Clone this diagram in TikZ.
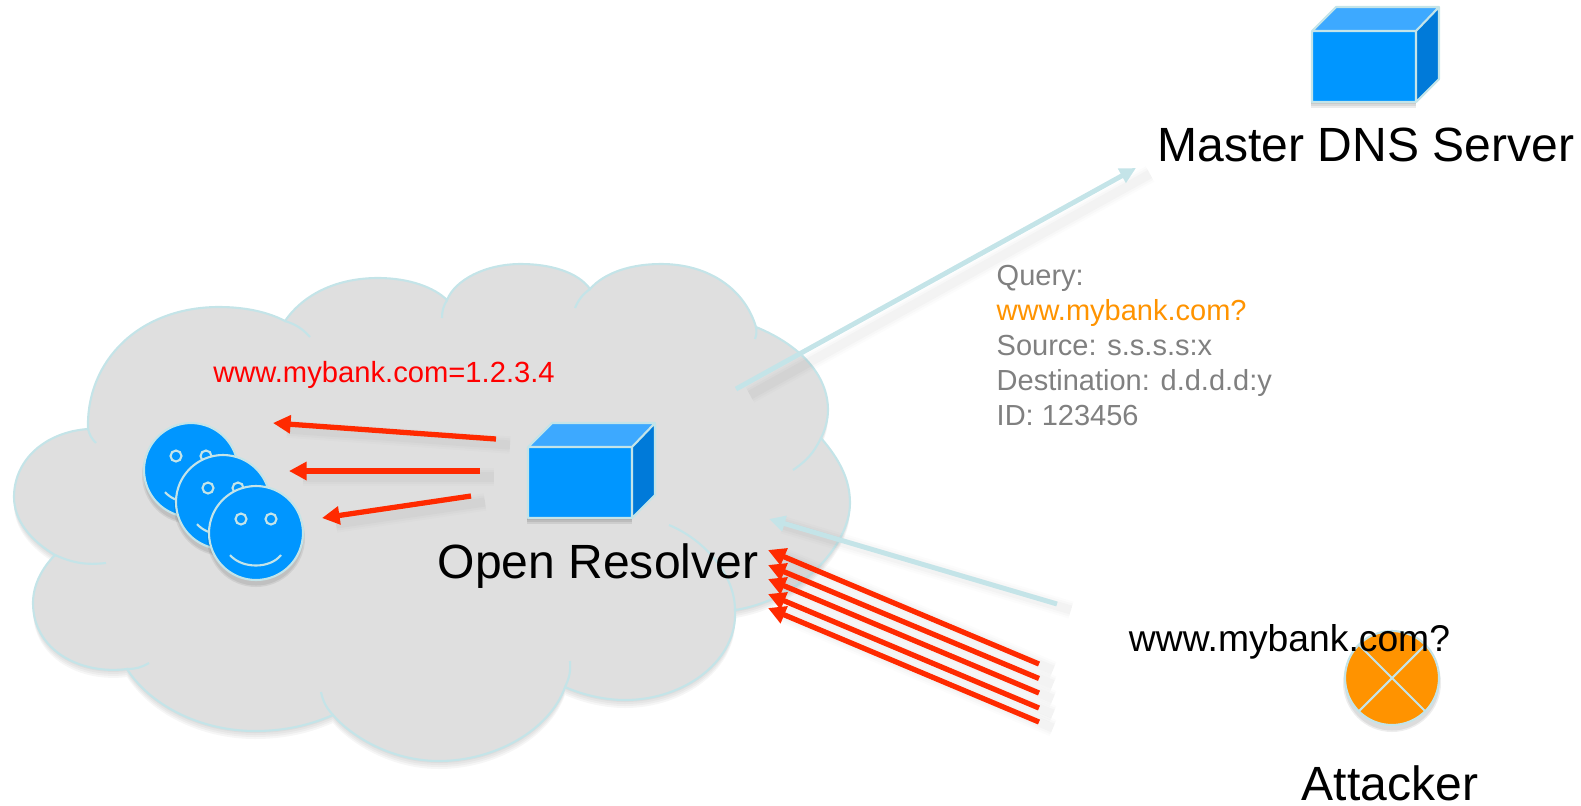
\documentclass[tikz,border=0pt]{standalone}
\usepackage{fontspec}
\setmainfont{Liberation Sans}
\usetikzlibrary{arrows.meta}
\usetikzlibrary{positioning}

\definecolor{cloudgray}{HTML}{DFDFDF}
\definecolor{paleline}{HTML}{C4E4E8}
\definecolor{boxblue}{HTML}{0096FF}
\definecolor{boxtop}{HTML}{3DA9FF}
\definecolor{boxside}{HTML}{007AD9}
\definecolor{attackorange}{HTML}{FF9300}
\definecolor{redarrow}{HTML}{FF2A00}
\definecolor{querygray}{HTML}{808080}

\newcommand{\cloudoutline}{(88,429)
  .. controls (86,360) and (140,307) .. (219,307) .. controls (245,307) and (268,312) .. (285,321)
  .. controls (305,292) and (340,278) .. (378,278) .. controls (410,278) and (435,288) .. (447,300)
  .. controls (455,280) and (485,264) .. (521,264) .. controls (550,264) and (578,272) .. (590,289)
  .. controls (605,272) and (632,264) .. (661,264) .. controls (710,264) and (745,290) .. (756,327)
  .. controls (800,345) and (828,375) .. (828,410) .. controls (828,420) and (825,430) .. (821,438)
  .. controls (840,460) and (850,480) .. (850,503) .. controls (850,545) and (800,600) .. (735,610)
  .. controls (738,660) and (685,700) .. (625,700) .. controls (605,700) and (583,695) .. (565,687)
  .. controls (550,730) and (495,761) .. (439,761) .. controls (390,761) and (350,735) .. (333,715)
  .. controls (310,725) and (285,731) .. (255,731) .. controls (200,731) and (150,705) .. (127,669)
  .. controls (80,675) and (33,650) .. (33,603) .. controls (33,585) and (42,568) .. (55,555)
  .. controls (30,540) and (14,520) .. (14,497) .. controls (14,460) and (45,432) .. (88,429) -- cycle}

\tikzset{
  cloudline/.style = {draw=paleline, line width=.6pt},
  bigtext/.style = {anchor=base, inner sep=0pt, font=\fontsize{13.66}{16}\selectfont},
  smalltext/.style = {inner sep=0pt, font=\fontsize{8.25}{9.9}\selectfont},
  softshadow/.style = {
    preaction={draw=black, opacity=.012, line width=5pt, -, transform canvas={shift={(14,6)}}},
    preaction={draw=black, opacity=.015, line width=3.8pt, -, transform canvas={shift={(14,6)}}},
    preaction={draw=black, opacity=.02, line width=2.6pt, -, transform canvas={shift={(14,6)}}}},
  redflow/.style = {draw=redarrow, line width=1.5pt, -{Triangle[length=5pt,width=5pt]}, softshadow},
  paleflow/.style = {draw=paleline, line width=1.4pt, -{Triangle[length=4.6pt,width=4.4pt]}, softshadow},
  pics/dnscube/.style = {code={
    \foreach \s in {2,4,6} {\fill[black, opacity=.08] (-1,\s) rectangle (104,71+\s);}
    \fill[boxblue] (0,0) rectangle (104,71);
    \fill[boxtop] (0,0) -- (24,-24) -- (127,-24) -- (104,0) -- cycle;
    \fill[boxside] (104,0) -- (127,-24) -- (127,48) -- (104,71) -- cycle;
    \draw[cloudline, line join=round] (0,0) rectangle (104,71) (0,0) -- (24,-24) -- (127,-24) -- (104,0)
      (127,-24) -- (127,48) -- (104,71);
  }},
  pics/smiley/.style = {code={
    \foreach \r in {49,47.5} {\fill[black, opacity=.07] (0,5) circle[radius=\r];}
    \draw[cloudline, fill=boxblue] (0,0) circle[radius=47];
    \draw[cloudline] (-15,-14) circle[radius=5.5] (15,-14) circle[radius=5.5];
    \draw[cloudline] (-26,22) .. controls (-14,36) and (14,36) .. (25,22);
  }},
}

\begin{document}
\begin{tikzpicture}[x=.01cm, y=-.01cm]
  \useasboundingbox (0,0) rectangle (1581,805);
  % cloud
  \foreach \s in {2,4,6,8} {\fill[black, opacity=.035, shift={(0,\s)}] \cloudoutline;}
  \fill[cloudgray] \cloudoutline;
  \draw[cloudline] \cloudoutline;
  \foreach \a/\b/\c/\d/\e in {88/429/96/443/right, 285/321/310/337/left, 447/300/442/318/right,
      590/289/575/308/right, 756/327/755/339/left, 821/438/793/470/left, 565/687/570/661/right,
      333/715/321/692/left, 127/669/149/663/right, 55/555/106/563/right} {
    \draw[cloudline] (\a,\b) to[bend \e=15] (\c,\d);
  }
  \draw[cloudline] (669,525) .. controls (705,540) and (735,575) .. (735,610);

  % servers and users
  \pic at (1312,31) {dnscube};
  \pic at (528,447) {dnscube};
  \pic at (191,470) {smiley};
  \pic at (223,502) {smiley};
  \pic at (256,533) {smiley};

  % attacker
  \foreach \r in {49,47.5} {\fill[black, opacity=.07] (1392,683) circle[radius=\r];}
  \draw[cloudline, fill=attackorange] (1392,678) circle[radius=47];
  \draw[cloudline] (1392,678) ++(-33.2,-33.2) -- ++(66.4,66.4) (1392,678) ++(33.2,-33.2) -- ++(-66.4,66.4);

  % labels
  \node[bigtext] (master) at (1366,161) {Master DNS Server};
  \node[bigtext] (resolver) at (598,578) {Open Resolver};
  \node[bigtext] (attacker) at (1390,800) {Attacker};
  \node[anchor=base, inner sep=0pt, font=\fontsize{10.6}{12}\selectfont] (question) at (1289.5,651) {www.mybank.com?};
  \node[smalltext, anchor=base, font=\fontsize{8.3}{10}\selectfont, text=red] (answer) at (384,382) {www.mybank.com=1.2.3.4};
  \node[smalltext, anchor=north west, align=left, text=querygray] (query) at (996,265)
    {Query:\\ \textcolor{attackorange}{www.mybank.com?}\\ Source: s.s.s.s:x\\ Destination: d.d.d.d:y\\ ID: 123456};

  % flows
  \coordinate (qstart) at (736,389);
  \coordinate (qend) at (1136,168);
  \coordinate (astart) at (1057,604);
  \coordinate (aend) at (769,519);
  \draw[paleflow] (qstart) -- (qend);
  \draw[paleflow] (astart) -- (aend);

  \foreach \i/\a/\b/\c/\d in {1/496/439/273/423, 2/480/471/289/471, 3/471/496/322/518} {
    \coordinate (back\i) at (\a,\b);
    \coordinate (user\i) at (\c,\d);
    \draw[redflow] (back\i) -- (user\i);
  }
  \foreach \i/\a/\b in {1/664/550, 2/678.5/565, 3/693/579, 4/708/594, 5/722/608} {
    \coordinate (flood\i) at (1039,\a);
    \coordinate (open\i) at (768,\b);
    \draw[redflow] (flood\i) -- (open\i);
  }
\end{tikzpicture}
\end{document}
